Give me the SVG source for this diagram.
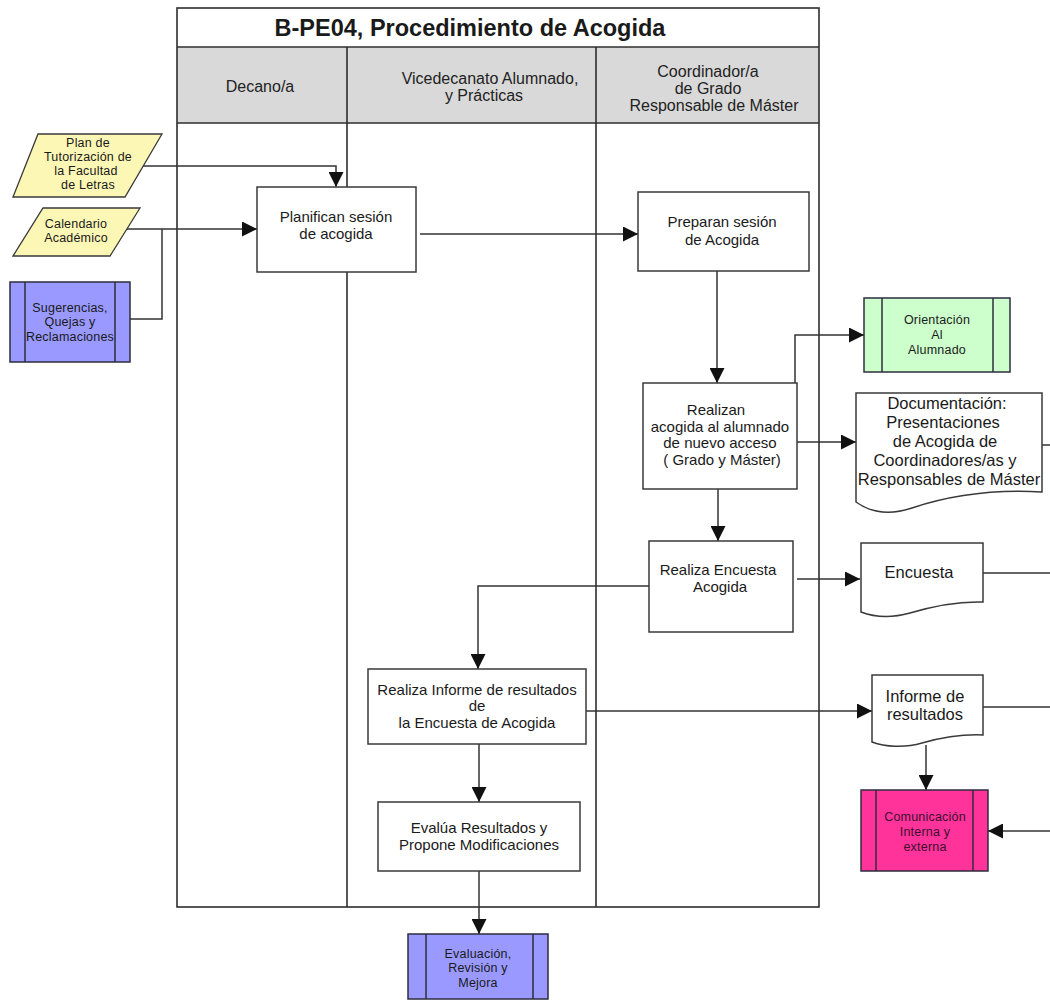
<svg xmlns="http://www.w3.org/2000/svg" width="1050" height="1000" viewBox="0 0 1050 1000">
  <style>
    text { font-family: "Liberation Sans", Arial, sans-serif; fill: #1a1a1a; text-anchor: middle; }
    .title { font-size: 23.5px; font-weight: bold; }
    .hdr { font-size: 16px; fill: #222; }
    .t15 { font-size: 15px; }
    .t16 { font-size: 16.5px; }
    .t12 { font-size: 12.5px; letter-spacing: 0.2px; }
    .box { fill: #ffffff; stroke: #3a3a3a; stroke-width: 1.5; }
    .frame { fill: none; stroke: #2e2e2e; stroke-width: 1.6; }
    .lane { stroke: #2e2e2e; stroke-width: 1.6; }
    .data { fill: #fdf7b6; stroke: #3a3a3a; stroke-width: 1.3; }
    .sub { stroke: #2e2e3e; stroke-width: 1.5; }
    .blue { fill: #9999ff; }
    .green { fill: #ccffcc; }
    .pink { fill: #ff3399; }
    .doc { fill: #ffffff; stroke: #3a3a3a; stroke-width: 1.5; }
    .conn path { fill: none; stroke: #333333; stroke-width: 1.5; }
    .arrow { marker-end: url(#head); }
  </style>
  <defs>
    <marker id="head" viewBox="0 0 10 10" refX="10" refY="5" markerUnits="userSpaceOnUse" markerWidth="15" markerHeight="15" orient="auto">
      <path d="M0,0 L10,5 L0,10 z" fill="#111111"/>
    </marker>
  </defs>

  <rect width="1050" height="1000" fill="#ffffff"/>

  <!-- swimlane frame -->
  <g id="pool">
    <rect x="177" y="47" width="642" height="76" fill="#d9d9d9"/>
    <rect class="frame" x="177" y="8" width="642" height="899"/>
    <line class="lane" x1="177" y1="47" x2="819" y2="47"/>
    <line class="lane" x1="177" y1="123" x2="819" y2="123"/>
    <line class="lane" x1="347" y1="47" x2="347" y2="907"/>
    <line class="lane" x1="596" y1="47" x2="596" y2="907"/>
    <text class="title" x="470" y="36">B-PE04, Procedimiento de Acogida</text>
    <text class="hdr" x="260" y="92">Decano/a</text>
    <text class="hdr" x="490" y="84">Vicedecanato Alumnado,</text>
    <text class="hdr" x="484" y="101">y Prácticas</text>
    <text class="hdr" x="708" y="77">Coordinador/a</text>
    <text class="hdr" x="708" y="94">de Grado</text>
    <text class="hdr" x="714" y="111">Responsable de Máster</text>
  </g>

  <!-- connectors -->
  <g id="connectors" class="conn">
    <path class="arrow" d="M143,166 H336 V187"/>
    <path class="arrow" d="M127,229 H257"/>
    <path d="M130,319 H162 V229"/>
    <path class="arrow" d="M420,234 H638"/>
    <path class="arrow" d="M717,271 V383"/>
    <path class="arrow" d="M795,383 V335 H864"/>
    <path class="arrow" d="M797,442 H856"/>
    <path class="arrow" d="M718,489 V541"/>
    <path class="arrow" d="M797,579 H860"/>
    <path class="arrow" d="M649,586 H478 V669"/>
    <path class="arrow" d="M479,744 V802"/>
    <path class="arrow" d="M479,871 V934"/>
    <path class="arrow" d="M586,711 H872"/>
    <path class="arrow" d="M926,745 V790"/>
    <path d="M1042,445 H1050"/>
    <path d="M983,573 H1050"/>
    <path d="M983,707 H1050"/>
    <path class="arrow" d="M1050,831 H988"/>
  </g>

  <!-- inputs -->
  <g id="plan-tutorizacion">
    <polygon class="data" points="38,134 162,134 125,197 13,197"/>
    <text class="t12" x="88" y="147">Plan de</text>
    <text class="t12" x="88" y="161">Tutorización de</text>
    <text class="t12" x="86" y="175">la Facultad</text>
    <text class="t12" x="88" y="189">de Letras</text>
  </g>
  <g id="calendario">
    <polygon class="data" points="43,208 140,208 110,256 13,256"/>
    <text class="t12" x="76" y="228">Calendario</text>
    <text class="t12" x="76" y="242">Académico</text>
  </g>
  <g id="sugerencias">
    <rect class="sub blue" x="10" y="282" width="120" height="80"/>
    <line class="sub" x1="25" y1="282" x2="25" y2="362"/>
    <line class="sub" x1="115" y1="282" x2="115" y2="362"/>
    <text class="t12" x="70" y="312">Sugerencias,</text>
    <text class="t12" x="70" y="326">Quejas y</text>
    <text class="t12" x="70" y="341">Reclamaciones</text>
  </g>

  <!-- process steps -->
  <g id="planifican">
    <rect class="box" x="257" y="187" width="159" height="85"/>
    <text class="t15" x="336" y="222">Planifican sesión</text>
    <text class="t15" x="336" y="239">de acogida</text>
  </g>
  <g id="preparan">
    <rect class="box" x="638" y="192" width="171" height="79"/>
    <text class="t15" x="722" y="227">Preparan sesión</text>
    <text class="t15" x="722" y="245">de Acogida</text>
  </g>
  <g id="realizan">
    <rect class="box" x="643" y="383" width="154" height="106"/>
    <text class="t15" x="716" y="415">Realizan</text>
    <text class="t15" x="720" y="432">acogida al alumnado</text>
    <text class="t15" x="720" y="448">de nuevo acceso</text>
    <text class="t15" x="722" y="465">( Grado y Máster)</text>
  </g>
  <g id="realiza-encuesta">
    <rect class="box" x="649" y="541" width="144" height="91"/>
    <text class="t15" x="718" y="575">Realiza Encuesta</text>
    <text class="t15" x="720" y="592">Acogida</text>
  </g>
  <g id="informe-resultados-paso">
    <rect class="box" x="368" y="669" width="218" height="75"/>
    <text class="t15" x="477" y="695">Realiza Informe de resultados</text>
    <text class="t15" x="477" y="711">de</text>
    <text class="t15" x="477" y="728">la Encuesta de Acogida</text>
  </g>
  <g id="evalua">
    <rect class="box" x="378" y="802" width="202" height="69"/>
    <text class="t15" x="479" y="833">Evalúa Resultados y</text>
    <text class="t15" x="479" y="850">Propone Modificaciones</text>
  </g>

  <!-- outputs -->
  <g id="orientacion">
    <rect class="sub green" x="864" y="298" width="146" height="74"/>
    <line class="sub" x1="882" y1="298" x2="882" y2="372"/>
    <line class="sub" x1="993" y1="298" x2="993" y2="372"/>
    <text class="t12" x="937" y="324">Orientación</text>
    <text class="t12" x="937" y="339">Al</text>
    <text class="t12" x="937" y="354">Alumnado</text>
  </g>
  <g id="documentacion">
    <path class="doc" d="M856,393 H1042 V492 C990,489 945,497 912,508 C888,516 870,512 856,502 Z"/>
    <text class="t16" x="947" y="409">Documentación:</text>
    <text class="t16" x="943" y="428">Presentaciones</text>
    <text class="t16" x="945" y="447">de Acogida de</text>
    <text class="t16" x="945" y="466">Coordinadores/as y</text>
    <text class="t16" x="949" y="485">Responsables de Máster</text>
  </g>
  <g id="encuesta">
    <path class="doc" d="M861,543 H983 V602 C955,601 930,607 910,613 C892,618 874,617 861,612 Z"/>
    <text class="t16" x="919" y="578">Encuesta</text>
  </g>
  <g id="informe-doc">
    <path class="doc" d="M872,675 H983 V735 C960,734 940,738 922,743 C905,748 885,747 872,742 Z"/>
    <text class="t16" x="925" y="702">Informe de</text>
    <text class="t16" x="925" y="720">resultados</text>
  </g>
  <g id="comunicacion">
    <rect class="sub pink" x="861" y="790" width="127" height="81"/>
    <line class="sub" x1="876" y1="790" x2="876" y2="871"/>
    <line class="sub" x1="973" y1="790" x2="973" y2="871"/>
    <text class="t12" x="925" y="821" style="fill:#3a1030">Comunicación</text>
    <text class="t12" x="925" y="836" style="fill:#3a1030">Interna y</text>
    <text class="t12" x="925" y="851" style="fill:#3a1030">externa</text>
  </g>
  <g id="evaluacion">
    <rect class="sub blue" x="408" y="934" width="140" height="65"/>
    <line class="sub" x1="426" y1="934" x2="426" y2="999"/>
    <line class="sub" x1="533" y1="934" x2="533" y2="999"/>
    <text class="t12" x="478" y="958">Evaluación,</text>
    <text class="t12" x="478" y="972">Revisión y</text>
    <text class="t12" x="478" y="987">Mejora</text>
  </g>
</svg>
